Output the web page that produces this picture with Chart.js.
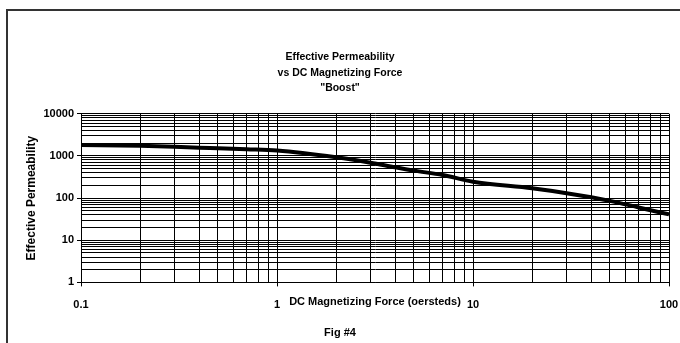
<!DOCTYPE html>
<html>
<head>
<meta charset="utf-8">
<script src="https://cdn.jsdelivr.net/npm/chart.js@4.4.0/dist/chart.umd.min.js"></script>
<style>
  html, body { margin: 0; padding: 0; background: #fff; overflow: hidden; }
  #wrap { position: relative; width: 680px; height: 343px; }
  #frame {
    position: absolute; left: 6px; top: 9px; width: 720px; height: 400px;
    border: 2px solid #333;
  }
  #chart { position: absolute; left: 0; top: 0; }
</style>
</head>
<body>
<div id="wrap">
  <div id="frame"></div>
  <canvas id="chart" width="680" height="343"></canvas>
</div>
<script>
// data (log-log)
const forceOersteds = [0.1, 0.2, 0.3, 0.4, 0.5, 0.7, 1, 2, 3, 4, 5, 7, 10, 20, 30, 50, 70, 100];
const permeability = [1815, 1745, 1650, 1565, 1515, 1435, 1340, 927, 690, 537, 448, 352, 244, 170, 130, 86, 60, 41];

// tick labels / grid
const xDecades = [0.1, 1, 10, 100];
const yDecades = [1, 10, 100, 1000, 10000];
const multiples = [1, 2, 3, 4, 5, 6, 7, 8, 9];

const titleLines = ["Effective Permeability", "vs DC Magnetizing Force", "\"Boost\""];
const xTitle = "DC Magnetizing Force (oersteds)";
const yTitle = "Effective Permeability";
const figLabel = "Fig #4";

const FONT = "'Liberation Sans', Arial, Helvetica, sans-serif";

function gridValues(decades) {
  const vals = [];
  decades.forEach((d, i) => {
    if (i === decades.length - 1) { vals.push(d); return; }
    multiples.forEach(m => vals.push(Math.round(d * m * 1000) / 1000));
  });
  return vals;
}

function isDecade(list, v) {
  return list.some(d => Math.abs(d - v) < 1e-9);
}

const points = forceOersteds.map((x, i) => ({ x, y: permeability[i] }));

new Chart(document.getElementById("chart").getContext("2d"), {
  type: "line",
  data: {
    datasets: [{
      data: points,
      borderColor: "#000",
      borderWidth: 4,
      pointRadius: 0,
      fill: false,
      cubicInterpolationMode: "monotone",
    }],
  },
  options: {
    responsive: false,
    animation: false,
    devicePixelRatio: 1,
    layout: { padding: { left: 0, right: 0, top: 0, bottom: 0 } },
    plugins: {
      legend: { display: false },
      tooltip: { enabled: false },
      title: {
        display: true,
        text: titleLines,
        color: "#000",
        font: { family: FONT, size: 10.5, weight: "bold", lineHeight: 1.5 },
        padding: { top: 49, bottom: 17.5 },
      },
      subtitle: {
        display: true,
        position: "bottom",
        text: figLabel,
        color: "#000",
        font: { family: FONT, size: 11, weight: "bold", lineHeight: 1.2 },
        padding: { top: 0, bottom: 3.4 },
      },
    },
    scales: {
      x: {
        type: "logarithmic",
        min: 0.1,
        max: 100,
        afterBuildTicks: (scale) => {
          scale.ticks = gridValues(xDecades).map(v => ({ value: v, major: isDecade(xDecades, v) }));
        },
        afterFit: (scale) => {
          scale.height = 44;
          scale.paddingLeft = 0;
          scale.paddingRight = 11;
        },
        grid: {
          color: "#000",
          lineWidth: 1,
          drawTicks: true,
          tickLength: 4,
          tickColor: (ctx) => (ctx.tick && isDecade(xDecades, ctx.tick.value)) ? "#000" : "rgba(0,0,0,0)",
        },
        border: { display: true, color: "#000", width: 1 },
        ticks: {
          autoSkip: false,
          maxRotation: 0,
          padding: 12,
          color: "#000",
          font: { family: FONT, size: 11, weight: "bold" },
          callback: (v) => isDecade(xDecades, v) ? String(v) : "",
        },
        title: {
          display: true,
          text: xTitle,
          color: "#000",
          font: { family: FONT, size: 11, weight: "bold", lineHeight: 1.2 },
          padding: { top: 0, bottom: 17.8 },
        },
      },
      y: {
        type: "logarithmic",
        min: 1,
        max: 10000,
        afterBuildTicks: (scale) => {
          scale.ticks = gridValues(yDecades).map(v => ({ value: v, major: isDecade(yDecades, v) }));
        },
        afterFit: (scale) => { scale.width = 81; },
        grid: {
          color: "#000",
          lineWidth: 1,
          drawTicks: true,
          tickLength: 4,
          tickColor: (ctx) => (ctx.tick && isDecade(yDecades, ctx.tick.value)) ? "#000" : "rgba(0,0,0,0)",
        },
        border: { display: true, color: "#000", width: 1 },
        ticks: {
          autoSkip: false,
          padding: 3,
          color: "#000",
          font: { family: FONT, size: 11, weight: "bold" },
          callback: (v) => isDecade(yDecades, v) ? String(v) : "",
        },
        title: {
          display: true,
          text: yTitle,
          color: "#000",
          font: { family: FONT, size: 12, weight: "bold", lineHeight: 1.2 },
          padding: { top: 24, bottom: 0 },
        },
      },
    },
  },
});
</script>
</body>
</html>
